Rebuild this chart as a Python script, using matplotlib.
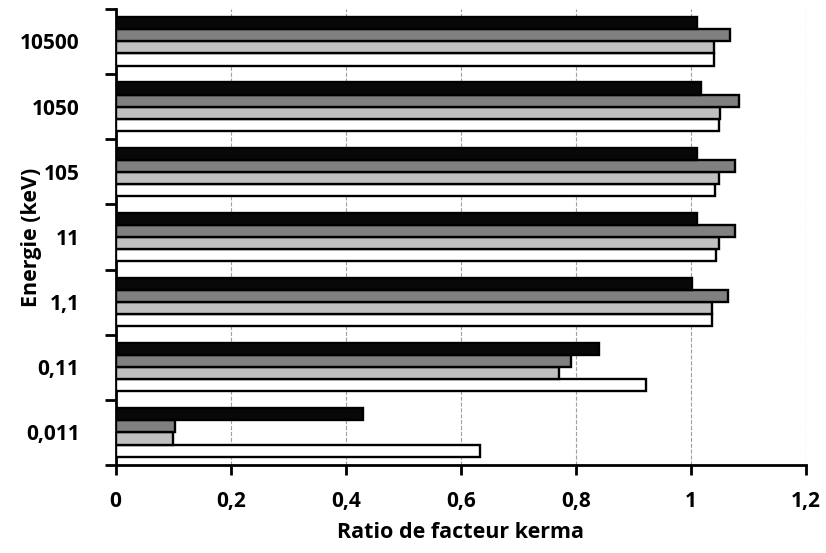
import numpy as np
import matplotlib
matplotlib.use('Agg')
import matplotlib.pyplot as plt

plt.rcParams['font.family'] = ['Open Sans', 'DejaVu Sans']
plt.rcParams['font.weight'] = 'bold'

energies = ['0,011', '0,11', '1,1', '11', '105', '1050', '10500']
# series, bottom bar of each group first
serie_blanc = [0.634, 0.921, 1.037, 1.043, 1.041, 1.048, 1.039]
serie_gris_clair = [0.100, 0.771, 1.036, 1.048, 1.049, 1.051, 1.040]
serie_gris_fonce = [0.104, 0.792, 1.064, 1.077, 1.076, 1.084, 1.067]
serie_noir = [0.430, 0.840, 1.002, 1.010, 1.010, 1.017, 1.010]

series = [serie_blanc, serie_gris_clair, serie_gris_fonce, serie_noir]
colors = ['#ffffff', '#c0c0c0', '#808080', '#080808']

fig = plt.figure(figsize=(8.26, 5.53), dpi=100)
ax = fig.add_axes([0.140, 0.159, 0.836, 0.825])

y = np.arange(len(energies))
h = 0.185
for k, vals in enumerate(series):
    ax.barh(y + (k - 1.5) * h, vals, height=h, color=colors[k],
            edgecolor='black', linewidth=1.7, zorder=3)

ax.set_xlim(0, 1.2)
ax.set_ylim(-0.5, len(energies) - 0.5)
ax.set_xticks(np.arange(0, 1.21, 0.2))
ax.set_xticklabels(['0', '0,2', '0,4', '0,6', '0,8', '1', '1,2'])
ax.set_yticks(y)
ax.set_yticklabels(energies)
ax.set_yticks(np.arange(-0.5, len(energies)), minor=True)
ax.tick_params(axis='y', which='major', length=0, pad=26, labelsize=15)
ax.tick_params(axis='y', which='minor', length=8, width=2, direction='out')
ax.tick_params(axis='x', length=7, width=2, direction='out', pad=12, labelsize=15)

ax.grid(axis='x', linestyle='--', color='#a0a0a0', linewidth=0.8, zorder=0)
for s in ['top', 'right']:
    ax.spines[s].set_visible(False)
for s in ['left', 'bottom']:
    ax.spines[s].set_linewidth(2)

ax.set_xlabel('Ratio de facteur kerma', fontsize=15.5, fontweight='bold')
ax.set_ylabel('Energie (keV)', fontsize=15.5, fontweight='bold')
ax.xaxis.set_label_coords(0.5, -0.125, transform=ax.transAxes)
ax.yaxis.set_label_coords(-0.107, 0.5, transform=ax.transAxes)

fig.savefig('out.png', dpi=100)
